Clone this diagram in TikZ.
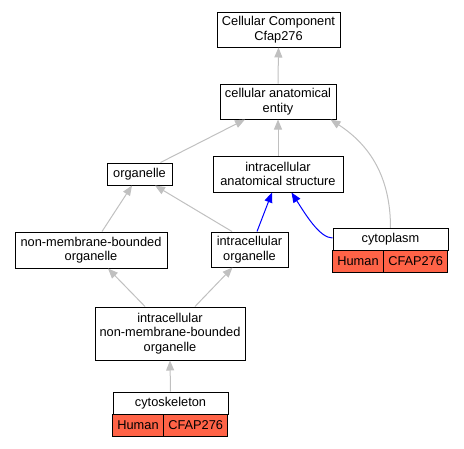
\documentclass[tikz,border=0pt]{standalone}
\usepackage{fontspec}
\setmainfont{Liberation Sans}
\usetikzlibrary{arrows.meta,calc}
\definecolor{edgegray}{HTML}{C0C0C0}
\definecolor{cellred}{HTML}{FF6347}
\tikzset{
  box/.style={draw=black, line width=1pt, fill=white, rectangle, inner sep=0pt, align=center, font=\fontsize{12.8}{14.5}\selectfont},
  redcell/.style={box, fill=cellred},
  isa/.style={draw=edgegray, line width=1pt, -{Triangle[length=10pt,width=8pt]}},
  partof/.style={draw=blue, line width=1pt, -{Triangle[length=10pt,width=8pt]}},
}
\begin{document}
\begin{tikzpicture}[x=1pt,y=-1pt]
\useasboundingbox (0,0) rectangle (464,448);
% nodes
\node[box, minimum width=123pt, minimum height=35pt] (cc) at (278.5,29.5) {Cellular Component\\Cfap276};
\node[box, minimum width=116pt, minimum height=35pt] (cae) at (278,101.5) {cellular anatomical\\entity};
\node[box, minimum width=65pt, minimum height=22pt] (org) at (139.5,174) {organelle};
\node[box, minimum width=130pt, minimum height=36pt] (ias) at (278,174) {intracellular\\anatomical structure};
\node[box, minimum width=152pt, minimum height=36pt] (nmb) at (91,250) {non-membrane-bounded\\organelle};
\node[box, minimum width=77pt, minimum height=35pt] (io) at (249.5,249.5) {intracellular\\organelle};
\node[box, minimum width=150pt, minimum height=53pt] (inmb) at (170,333.5) {intracellular\\non-membrane-bounded\\organelle};
% cytoplasm table
\node[box, minimum width=115pt, minimum height=22.5pt] (cyto) at (390.5,239.5) {cytoplasm};
\node[redcell, minimum width=50.5pt, minimum height=21.5pt] (cytoh) at (358,261.3) {Human};
\node[redcell, minimum width=64.5pt, minimum height=21.5pt] (cytog) at (415.7,261.3) {CFAP276};
% cytoskeleton table
\node[box, minimum width=115pt, minimum height=22.5pt] (csk) at (170.5,403.3) {cytoskeleton};
\node[redcell, minimum width=50.5pt, minimum height=22pt] (cskh) at (138,425.5) {Human};
\node[redcell, minimum width=64.5pt, minimum height=22pt] (cskg) at (195.7,425.5) {CFAP276};
% edges
\draw[isa] (cae.north) -- (cc.south);
\draw[isa] ([xshift=21pt]org.north) -- ([xshift=-33pt]cae.south);
\draw[isa] (ias.north) -- (cae.south);
\draw[isa] (cyto.north) .. controls ([yshift=50pt]cyto.north) and ([xshift=34pt,yshift=-26pt]cae.south east) .. ([xshift=-6pt]cae.south east);
\draw[isa] ([xshift=11pt]nmb.north) -- ([xshift=-7.5pt]org.south);
\draw[isa] ([xshift=-17.5pt]io.north) -- ([xshift=15.5pt]org.south);
\draw[partof] ([xshift=7.5pt]io.north) -- ([xshift=-6pt]ias.south);
\draw[partof] ([yshift=1.5pt]cyto.west) .. controls ([xshift=-13pt,yshift=1.5pt]cyto.west) and ([xshift=27pt,yshift=-21pt]ias.south) .. ([xshift=13.5pt]ias.south);
\draw[isa] ([xshift=-25pt]inmb.north) -- ([xshift=17pt]nmb.south);
\draw[isa] ([xshift=25pt]inmb.north) -- ([xshift=-17pt]io.south);
\draw[isa] (csk.north) -- (inmb.south);
\end{tikzpicture}
\end{document}
